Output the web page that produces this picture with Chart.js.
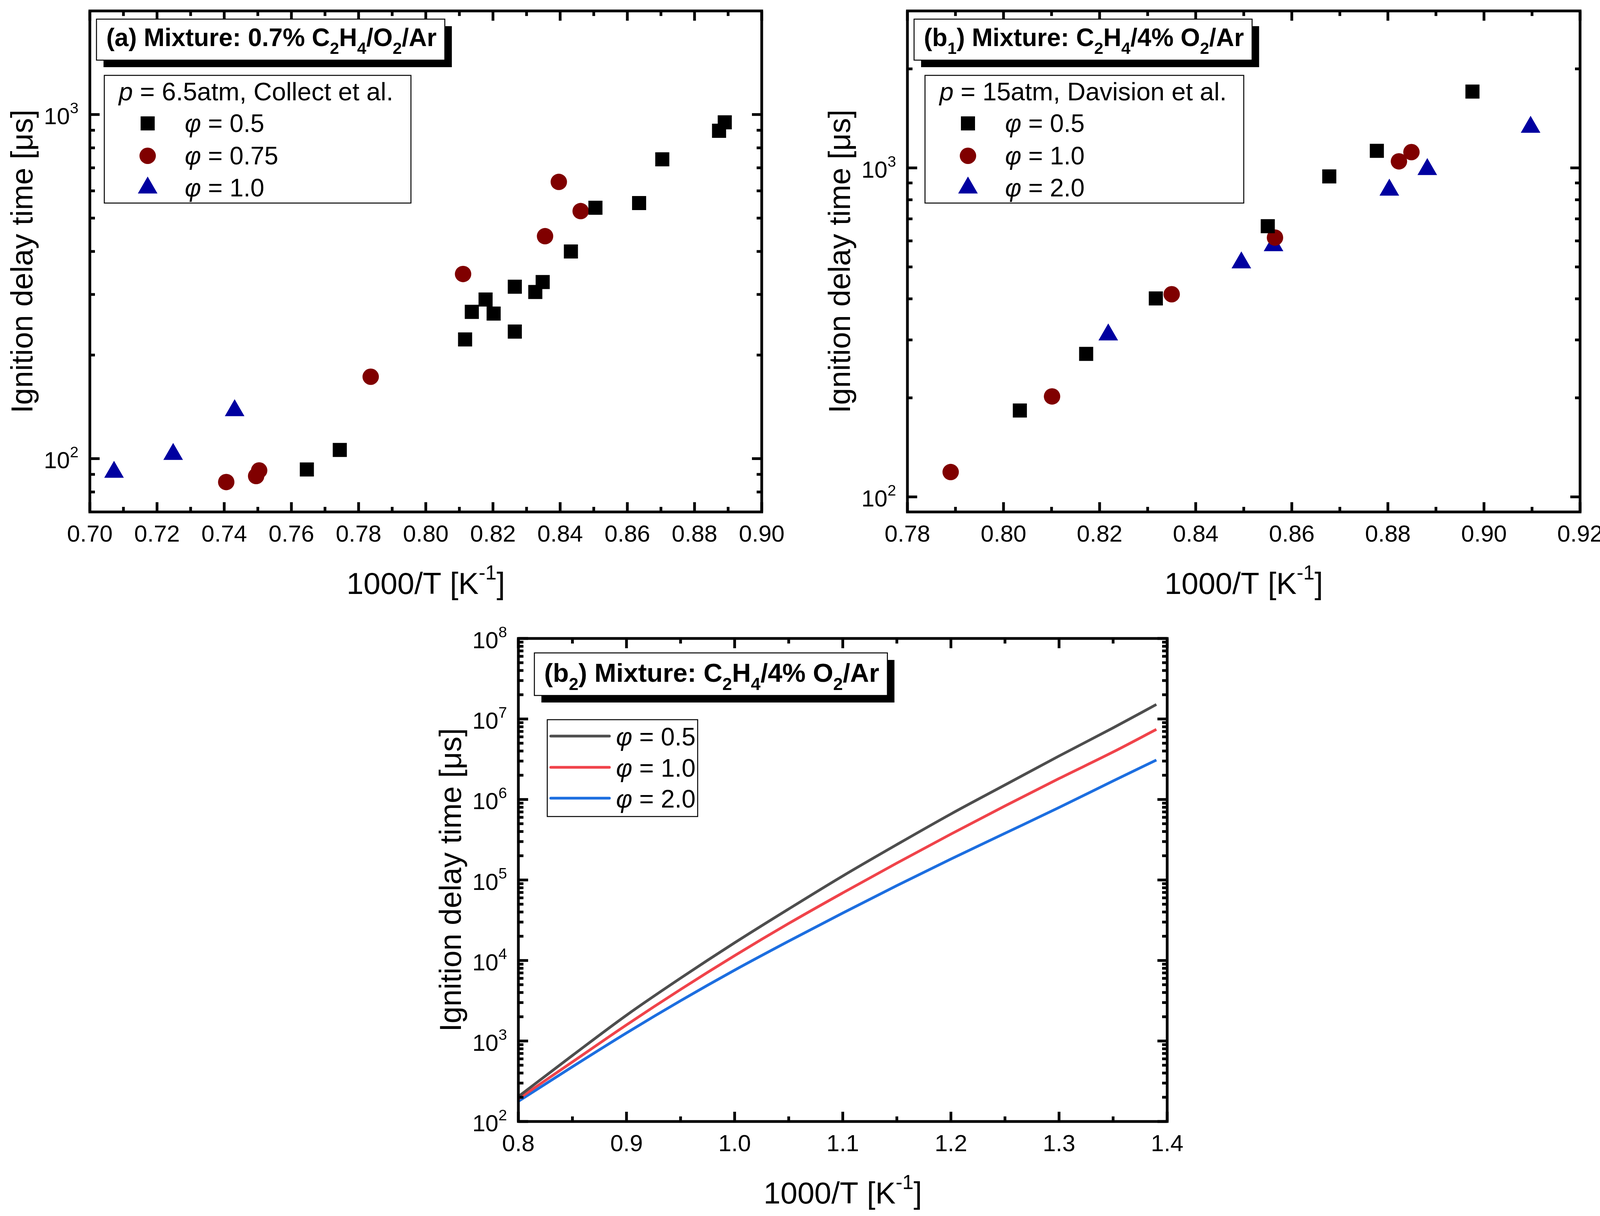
<!DOCTYPE html>
<html>
<head>
<meta charset="utf-8">
<script src="https://cdn.jsdelivr.net/npm/chart.js@4.4.0/dist/chart.umd.min.js"></script>
<style>
  html, body { margin:0; background:#fff; overflow:hidden; }
  canvas { position:absolute; left:0; top:0; }
</style>
</head>
<body>
<canvas id="cA" width="4122" height="3114"></canvas>
<canvas id="cB1" width="4122" height="3114"></canvas>
<canvas id="cB2" width="4122" height="3114"></canvas>
<script>
// ---- data ----
// (a) 0.7% C2H4/O2/Ar, p = 6.5 atm, Collect et al.
const aX05 = [0.7646,0.7744,0.8117,0.8137,0.8178,0.8202,0.8265,0.8265,0.8326,0.8348,0.8432,0.8505,0.8635,0.8704,0.8873,0.8890];
const aY05 = [93,106,222,267,290,264,234,316,305,326,400,536,553,741,897,949];
const aX075 = [0.7406,0.7495,0.7504,0.7836,0.8111,0.8355,0.8396,0.8461];
const aY075 = [85.5,89,92.4,173,344,443,637,524];
const aX10 = [0.7072,0.7248,0.7431];
const aY10 = [91.4,103,138];
const aNames = ['0.5','0.75','1.0'];

// (b1) C2H4/4% O2/Ar, p = 15 atm, Davision et al.
const b1X05 = [0.8034,0.8172,0.8317,0.8550,0.8678,0.8777,0.8976];
const b1Y05 = [183,272,401,665,942,1127,1706];
const b1X10 = [0.7890,0.8101,0.8350,0.8565,0.8823,0.8849];
const b1Y10 = [119,202,413,614,1047,1117];
const b1X20 = [0.8218,0.8495,0.8562,0.8803,0.8882,0.9097];
const b1Y20 = [311,515,581,857,990,1330];
const b1Names = ['0.5','1.0','2.0'];

// (b2) simulated curves
const b2X = [0.80,0.85,0.90,0.95,1.00,1.05,1.10,1.15,1.20,1.25,1.30,1.35,1.39];
const b2Y05 = [204,661,2090,6030,16600,43650,112200,275400,660700,1514000,3467000,7762000,15140000];
const b2Y10 = [191,550,1585,4365,11480,28840,69180,162200,371500,831800,1820000,3890000,7413000];
const b2Y20 = [178,479,1259,3162,7586,17380,38900,85110,182000,380200,794300,1698000,3090000];
const b2Names = ['0.5','1.0','2.0'];

// tick labels
const aTicksX = [0.70,0.72,0.74,0.76,0.78,0.80,0.82,0.84,0.86,0.88,0.90];
const aTicksY = [100,1000];
const b1TicksX = [0.78,0.80,0.82,0.84,0.86,0.88,0.90,0.92];
const b1TicksY = [100,1000];
const b2TicksX = [0.8,0.9,1.0,1.1,1.2,1.3,1.4];
const b2TicksY = [1e2,1e3,1e4,1e5,1e6,1e7,1e8];

const FONT = "'Liberation Sans', Arial, sans-serif";
const pts = (xs, ys) => xs.map((x, i) => ({x, y: ys[i]}));

// text with sub/superscripts and italics: runs = [[text, kind]]
function richText(ctx, runs, x, y, size, bold, align){
  const parts = runs.map(([t, k]) => {
    const small = k === 'sub' || k === 'sup';
    const f = (k === 'i' ? 'italic ' : '') + (bold ? 'bold ' : '') + (small ? size*0.66 : size) + 'px ' + FONT;
    ctx.font = f;
    return {t, f, w: ctx.measureText(t).width, dy: k === 'sub' ? size*0.31 : k === 'sup' ? -size*0.47 : 0};
  });
  const total = parts.reduce((s, p) => s + p.w, 0);
  let cx = align === 'right' ? x - total : align === 'center' ? x - total/2 : x;
  ctx.textAlign = 'left'; ctx.textBaseline = 'alphabetic';
  parts.forEach(p => { ctx.font = p.f; ctx.fillText(p.t, cx, y + p.dy); cx += p.w; });
  return total;
}
function measureRich(ctx, runs, size, bold){
  return runs.reduce((s, [t, k]) => {
    const small = k === 'sub' || k === 'sup';
    ctx.font = (k === 'i' ? 'italic ' : '') + (bold ? 'bold ' : '') + (small ? size*0.66 : size) + 'px ' + FONT;
    return s + ctx.measureText(t).width;
  }, 0);
}
function mark(ctx, style, x, y, r, color){
  ctx.fillStyle = color; ctx.beginPath();
  if(style === 'rect'){ const s = r*Math.SQRT1_2; ctx.rect(x-s, y-s, 2*s, 2*s); }
  else if(style === 'circle'){ ctx.arc(x, y, r, 0, 2*Math.PI); }
  else {
    ctx.moveTo(x, y - r);
    ctx.lineTo(x + r*Math.sin(2*Math.PI/3), y - r*Math.cos(2*Math.PI/3));
    ctx.lineTo(x + r*Math.sin(4*Math.PI/3), y - r*Math.cos(4*Math.PI/3));
    ctx.closePath();
  }
  ctx.fill();
}
function minorsLin(t){ const m = []; for(let i = 0; i < t.length-1; i++) m.push((t[i]+t[i+1])/2); return m; }
function minorsLog(min, max){
  const m = [];
  for(let e = Math.floor(Math.log10(min)); e <= Math.ceil(Math.log10(max)); e++)
    for(let k = 2; k <= 9; k++){ const v = k*Math.pow(10, e); if(v > min && v < max) m.push(v); }
  return m;
}

const titleA = [['(a) Mixture: 0.7% C'],['2','sub'],['H'],['4','sub'],['/O'],['2','sub'],['/Ar']];
const titleB1 = [['(b'],['1','sub'],[') Mixture: C'],['2','sub'],['H'],['4','sub'],['/4% O'],['2','sub'],['/Ar']];
const titleB2 = [['(b'],['2','sub'],[') Mixture: C'],['2','sub'],['H'],['4','sub'],['/4% O'],['2','sub'],['/Ar']];

const deco = {
  cA: { ticksX: aTicksX, ticksY: aTicksY, dec: 2, title: titleA, tSize: 64, tBox: [247, 49, 105, 118],
        head: [['p','i'],[' = 6.5atm, Collect et al.']], names: aNames,
        leg: {x:267, y:193, w:785, h:327, headX:304, headBase:257, markX:378, textX:473, rows:[338,421,503]} },
  cB1: { ticksX: b1TicksX, ticksY: b1TicksY, dec: 2, title: titleB1, tSize: 64, tBox: [2340, 49, 105, 118],
        head: [['p','i'],[' = 15atm, Davision et al.']], names: b1Names,
        leg: {x:2368, y:193, w:816, h:327, headX:2405, headBase:257, markX:2478, textX:2573, rows:[338,421,503]} },
  cB2: { ticksX: b2TicksX, ticksY: b2TicksY, dec: 1, title: titleB2, tSize: 67, tBox: [1368, 1672, 109, 1746],
        names: b2Names, lines: true,
        leg: {x:1401, y:1843, w:385, h:248, lineX0:1410, lineX1:1560, textX:1577, rows:[1909,1989,2068]} }
};

const decoPlugin = {
  id: 'deco',
  afterDatasetsDraw(chart){
    const d = deco[chart.canvas.id], ctx = chart.ctx, a = chart.chartArea;
    const sx = chart.scales.x, sy = chart.scales.y;
    ctx.save();
    ctx.fillStyle = '#000'; ctx.strokeStyle = '#000';
    // frame
    ctx.lineWidth = 7;
    ctx.strokeRect(a.left, a.top, a.right - a.left, a.bottom - a.top);
    // inward ticks on all four sides
    const xt = (v, len) => { const p = sx.getPixelForValue(v); ctx.fillRect(p-3.5, a.bottom-len, 7, len); ctx.fillRect(p-3.5, a.top, 7, len); };
    const yt = (v, len) => { const p = sy.getPixelForValue(v); ctx.fillRect(a.left, p-3.5, len, 7); ctx.fillRect(a.right-len, p-3.5, len, 7); };
    d.ticksX.forEach(v => xt(v, 25));
    minorsLin(d.ticksX).forEach(v => xt(v, 13));
    d.ticksY.forEach(v => yt(v, 25));
    minorsLog(sy.min, sy.max).forEach(v => yt(v, 13));
    // tick labels
    d.ticksX.forEach(v => richText(ctx, [[v.toFixed(d.dec)]], sx.getPixelForValue(v), a.bottom + 76, 60, false, 'center'));
    d.ticksY.forEach(v => richText(ctx, [['10'],[String(Math.round(Math.log10(v))),'sup']], a.left - 29, sy.getPixelForValue(v) + 25, 60, false, 'right'));
    // axis titles
    richText(ctx, [['1000/T [K'],['-1','sup'],[']']], (a.left + a.right)/2, a.bottom + 210, 78, false, 'center');
    ctx.save();
    ctx.translate(a.left - 147, (a.top + a.bottom)/2);
    ctx.rotate(-Math.PI/2);
    richText(ctx, [['Ignition delay time [μs]']], 0, 0, 78, false, 'center');
    ctx.restore();
    // title box with drop shadow
    const [bx, by, bh, bBase] = d.tBox;
    const bw = measureRich(ctx, d.title, d.tSize, true) + 46;
    ctx.fillStyle = '#000'; ctx.fillRect(bx + 18, by + 18, bw, bh);
    ctx.fillStyle = '#fff'; ctx.fillRect(bx, by, bw, bh);
    ctx.lineWidth = 2.5; ctx.strokeRect(bx, by, bw, bh);
    ctx.fillStyle = '#000';
    richText(ctx, d.title, bx + 25, bBase, d.tSize, true, 'left');
    // legend box
    const L = d.leg;
    ctx.fillStyle = '#fff'; ctx.fillRect(L.x, L.y, L.w, L.h);
    ctx.lineWidth = 2.5; ctx.strokeRect(L.x, L.y, L.w, L.h);
    ctx.fillStyle = '#000';
    if(d.head) richText(ctx, d.head, L.headX, L.headBase, 65, false, 'left');
    chart.data.datasets.forEach((ds, i) => {
      const base = L.rows[i];
      if(d.lines){
        ctx.strokeStyle = ds.borderColor; ctx.lineWidth = 7; ctx.lineCap = 'round';
        ctx.beginPath(); ctx.moveTo(L.lineX0, base - 24); ctx.lineTo(L.lineX1, base - 24); ctx.stroke();
      } else {
        mark(ctx, ds.pointStyle, L.markX, base - 22, ds.pointRadius, ds.backgroundColor);
      }
      ctx.fillStyle = '#000';
      richText(ctx, [['φ','i'],[' = ' + d.names[i]]], L.textX, base, 64, false, 'left');
    });
    ctx.restore();
  }
};

function makeChart(id, datasets, xmin, xmax, ymin, ymax, area){
  return new Chart(document.getElementById(id), {
    type: 'scatter',
    data: { datasets },
    options: {
      responsive: false, animation: false, events: [],
      layout: { autoPadding: false, padding: { left: area[0], top: area[1], right: 4122 - area[2], bottom: 3114 - area[3] } },
      plugins: { legend: { display: false }, tooltip: { enabled: false } },
      scales: {
        x: { type: 'linear', min: xmin, max: xmax, display: false },
        y: { type: 'logarithmic', min: ymin, max: ymax, display: false }
      }
    },
    plugins: [decoPlugin]
  });
}

const sq = (data) => ({ data, pointStyle: 'rect', pointRadius: 25.5, backgroundColor: '#000000', borderWidth: 0 });
const ci = (data) => ({ data, pointStyle: 'circle', pointRadius: 21, backgroundColor: '#800000', borderWidth: 0 });
const tr = (data) => ({ data, pointStyle: 'triangle', pointRadius: 29, backgroundColor: '#0000a0', borderWidth: 0 });
const ln = (data, color) => ({ data, showLine: true, pointRadius: 0, borderColor: color, borderWidth: 7, cubicInterpolationMode: 'monotone' });

makeChart('cA', [sq(pts(aX05, aY05)), ci(pts(aX075, aY075)), tr(pts(aX10, aY10))],
  0.70, 0.90, 70, 2000, [230, 28, 1950, 1311]);
makeChart('cB1', [sq(pts(b1X05, b1Y05)), ci(pts(b1X10, b1Y10)), tr(pts(b1X20, b1Y20))],
  0.78, 0.92, 90, 3000, [2323, 28, 4045, 1311]);
makeChart('cB2', [ln(pts(b2X, b2Y05), '#4d4d4d'), ln(pts(b2X, b2Y10), '#f0434a'), ln(pts(b2X, b2Y20), '#1c6ee0')],
  0.8, 1.4, 1e2, 1e8, [1327, 1635, 2988, 2872]);
</script>
</body>
</html>
